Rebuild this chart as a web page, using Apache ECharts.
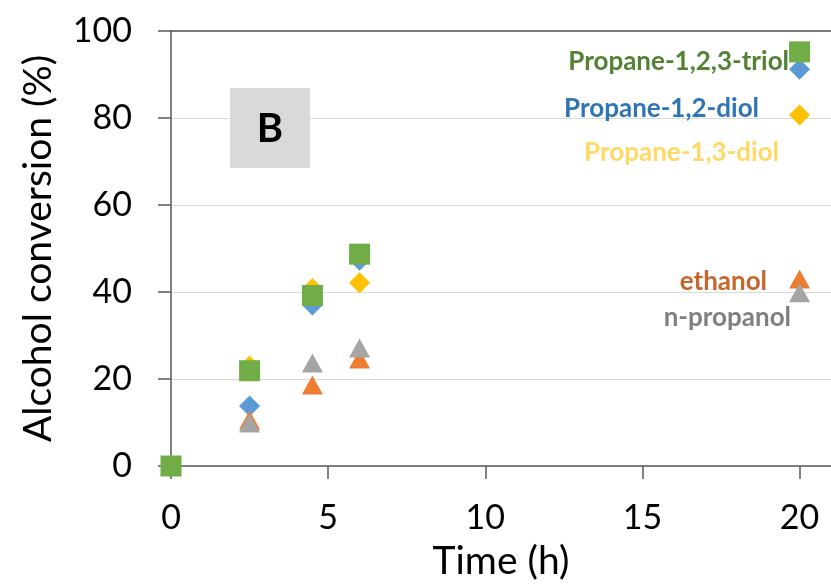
<!DOCTYPE html>
<html>
<head>
<meta charset="utf-8">
<script src="https://cdn.jsdelivr.net/npm/echarts@6/dist/echarts.min.js"></script>
<style>
  html, body { margin: 0; padding: 0; background: #fff; }
  #chart { width: 831px; height: 584px; }
</style>
</head>
<body>
<div id="chart"></div>
<script>
// data
const times = [0, 2.5, 4.5, 6, 20]
const xTicks = [0, 5, 10, 15, 20]

const diol13 = [0, 23, 40.8, 42.1, 80.7]
const diol12 = [0, 13.8, 37, 47.3, 91.2]
const ethanol = [0, 10.6, 18.6, 24.6, 43]
const propanol = [0, 9.9, 23.7, 27.1, 39.8]
const triol = [0, 21.9, 39.2, 48.7, 95.2]

const names = ['Propane-1,3-diol', 'Propane-1,2-diol', 'ethanol', 'n-propanol', 'Propane-1,2,3-triol']
const values = [diol13, diol12, ethanol, propanol, triol]

// look of each series (bottom to top)
const looks = [
    { symbol: 'diamond', size: 21, color: '#FFC000', text: '#FFD966', offset: [-10, 38] },
    { symbol: 'diamond', size: 21, color: '#5B9BD5', text: '#2E75B6', offset: [-30, 39] },
    { symbol: 'triangle', size: [21, 19], color: '#ED7D31', text: '#C9652A', offset: [-22, 3] },
    { symbol: 'triangle', size: [21, 19], color: '#A5A5A5', text: '#808080', offset: [2, 25] },
    { symbol: 'rect', size: 21, color: '#70AD47', text: '#548235', offset: [0, 10] }
]

const font = 'Lato'
const axisColor = '#595959'

const series = names.map((name, i) => {
    const look = looks[i]
    const data = times.map((t, k) => {
        const item = { value: [t, values[i][k]] }
        if (k === times.length - 1) {
            // name written beside the 20 h point
            item.label = {
                show: true,
                position: 'left',
                distance: 0,
                offset: look.offset,
                formatter: name,
                color: look.text,
                fontFamily: font,
                fontWeight: 'bold',
                fontSize: 26
            }
        }
        return item
    })
    return {
        name: name,
        type: 'scatter',
        symbol: look.symbol,
        symbolSize: look.size,
        itemStyle: { color: look.color, opacity: 1 },
        data: data,
        z: 2 + i
    }
})

const chart = echarts.init(document.getElementById('chart'), null, { renderer: 'canvas' })

const option = {
    animation: false,
    grid: { left: 171, right: 0, top: 31, bottom: 118, containLabel: false, outerBoundsMode: 'none' },
    xAxis: [
        {
            type: 'value',
            min: 0,
            max: 21,
            interval: 5,
            name: 'Time (h)',
            nameLocation: 'middle',
            nameGap: 76,
            nameTextStyle: { fontFamily: font, fontSize: 39, color: '#000' },
            axisLine: { show: true, lineStyle: { color: axisColor, width: 1.5 } },
            axisTick: { show: true, inside: false, length: 13, customValues: xTicks, lineStyle: { color: axisColor, width: 1.5 } },
            axisLabel: { customValues: xTicks, margin: 35, fontFamily: font, fontSize: 34, color: '#000' },
            splitLine: { show: false }
        },
        {
            type: 'value',
            position: 'top',
            min: 0,
            max: 21,
            axisLine: { show: true, lineStyle: { color: axisColor, width: 1.5 } },
            axisTick: { show: false },
            axisLabel: { show: false },
            splitLine: { show: false }
        }
    ],
    yAxis: {
        type: 'value',
        min: 0,
        max: 100,
        interval: 20,
        name: 'Alcohol conversion (%)',
        nameLocation: 'middle',
        nameGap: 113,
        nameTextStyle: { fontFamily: font, fontSize: 39, color: '#000' },
        axisLine: { show: true, lineStyle: { color: axisColor, width: 1.5 } },
        axisTick: { show: true, inside: false, length: 13, lineStyle: { color: axisColor, width: 1.5 } },
        axisLabel: { margin: 39, fontFamily: font, fontSize: 34, color: '#000' },
        splitLine: { show: true, lineStyle: { color: '#D9D9D9', width: 1.2 } }
    },
    graphic: [
        {
            type: 'group',
            left: 230,
            top: 88,
            z: 50,
            children: [
                { type: 'rect', z: 50, shape: { x: 0, y: 0, width: 80, height: 80 }, style: { fill: '#D9D9D9' } },
                {
                    type: 'text',
                    z: 51,
                    x: 40,
                    y: 41,
                    style: {
                        text: 'B',
                        fill: '#000',
                        font: 'bold 40px Lato',
                        align: 'center',
                        verticalAlign: 'middle'
                    }
                }
            ]
        }
    ],
    series: series
}

chart.setOption(option)
</script>
</body>
</html>
